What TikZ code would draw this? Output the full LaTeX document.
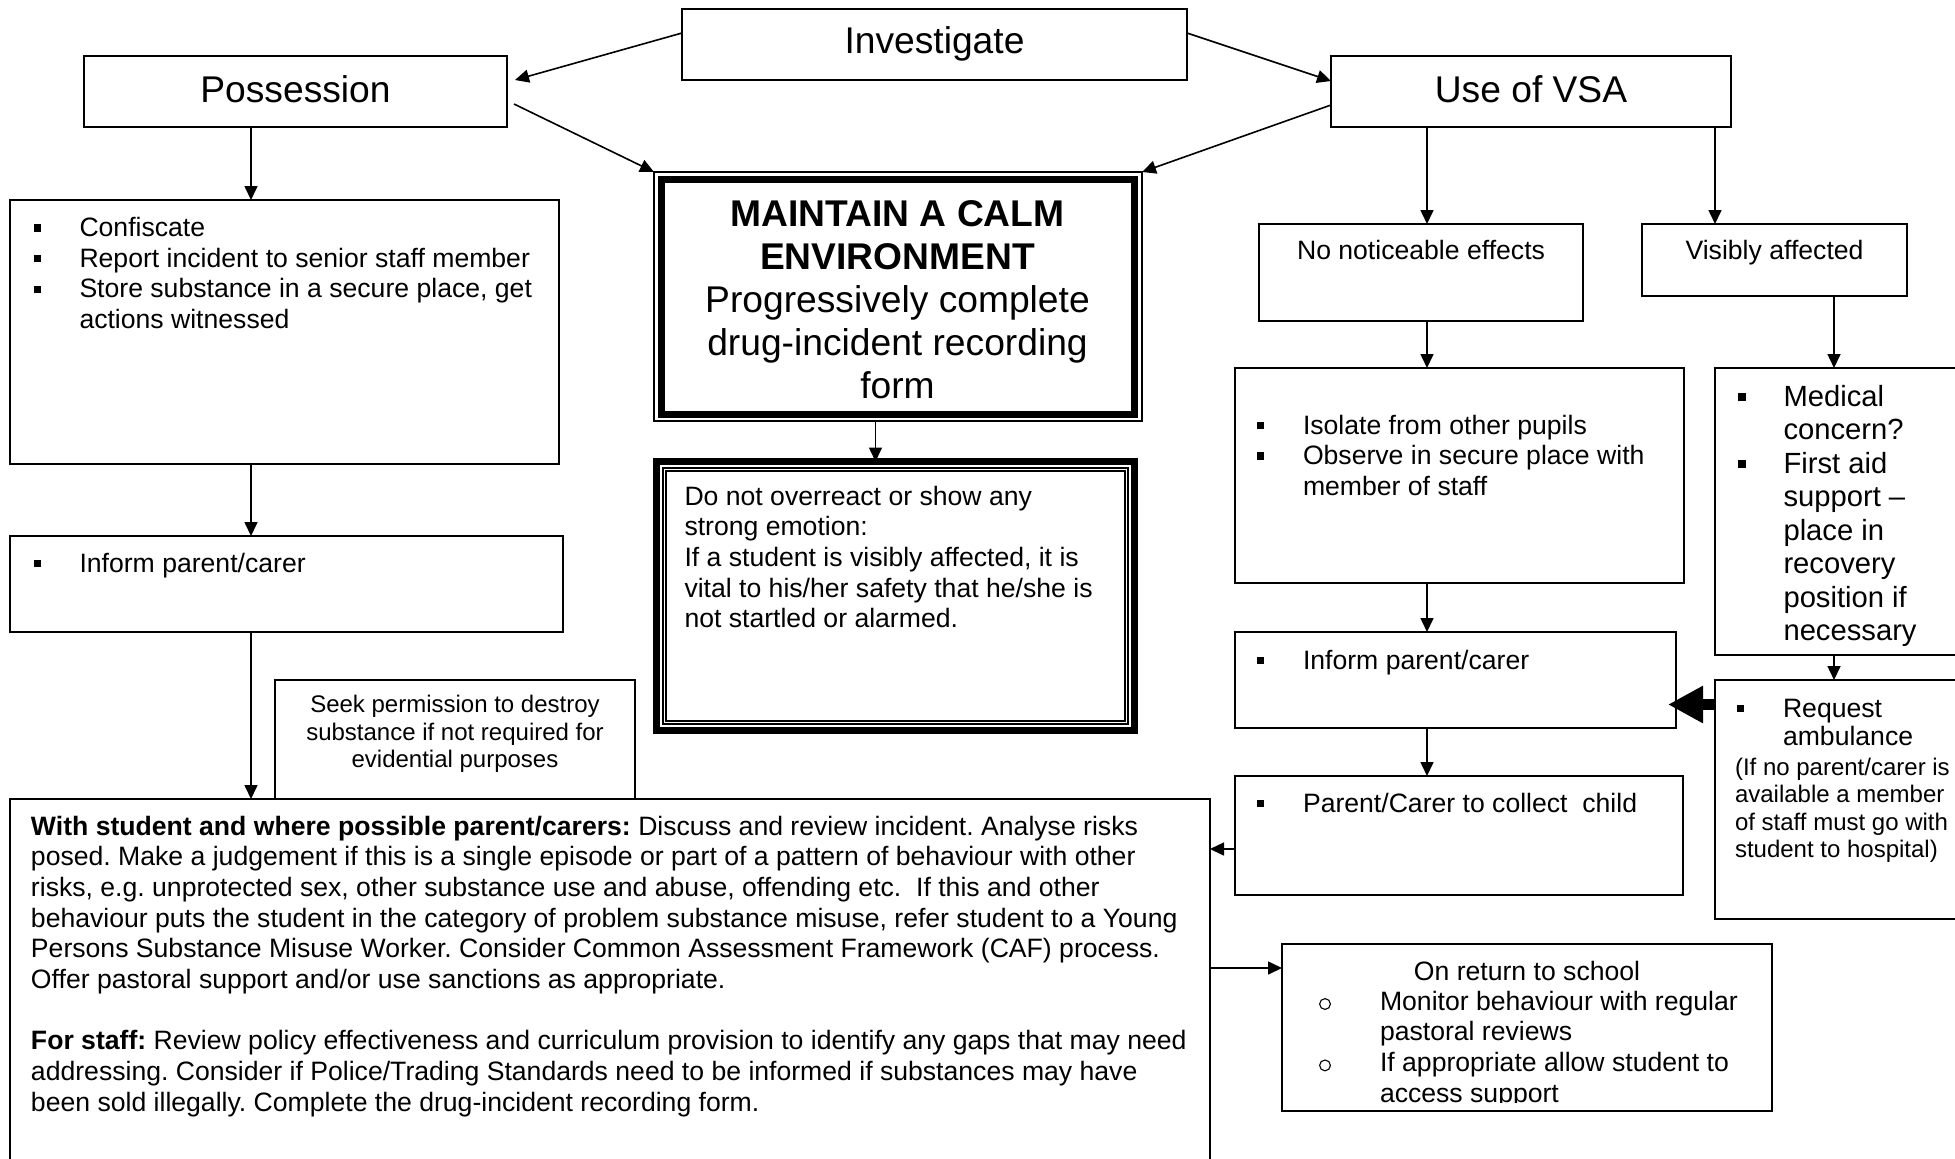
\documentclass[tikz,border=0pt]{standalone}
\usepackage{fontspec}
\setmainfont{Liberation Sans}
\usetikzlibrary{arrows.meta,fit}
\newcommand\fA{\fontsize{13.3}{15.35}\selectfont}
\newcommand\fB{\fontsize{18.6}{21.4}\selectfont}
\newcommand\fC{\fontsize{12}{13.7}\selectfont}
\newcommand\fD{\fontsize{14.6}{16.75}\selectfont}
\newcommand\fR{\fontsize{13.3}{14}\selectfont}
\newcommand\sqb{\rule[0.18em]{0.28em}{0.28em}}
\newcommand\bi[1]{\makebox[#1][l]{\sqb}}
\frenchspacing
\begin{document}
\frenchspacing
\begin{tikzpicture}[x=0.5pt,y=-0.5pt,
  box/.style={draw, line width=0.9pt, inner sep=0pt, outer sep=0pt},
  arr/.style={line width=0.8pt, -{Triangle[length=7pt,width=6.5pt]}},
  tx/.style={inner sep=0pt, outer sep=0pt, align=left, anchor=north west, font=\fA},
  tc/.style={inner sep=0pt, outer sep=0pt, align=center, anchor=north, font=\fA},
  big/.style={inner sep=0pt, outer sep=0pt, anchor=base, font=\fB}]
\fill[white] (0,0) rectangle (1955,1158);
\useasboundingbox (0,0) rectangle (1955,1158);

% top boxes
\node[box, fit={(682,9) (1187,80)}] (inv) {};
\node[box, fit={(84,56) (507,127)}] (pos) {};
\node[box, fit={(1331,56) (1731,127)}] (vsa) {};
\node[big] (inv-t) at (934.5,53.5) {Investigate};
\node[big] (pos-t) at (295.5,102) {Possession};
\node[big] (vsa-t) at (1531,102) {Use of VSA};

% central framed boxes
\node[draw, line width=0.7pt, inner sep=0pt, outer sep=0pt, fit={(654,172) (1142,421)}] (maint) {};
\draw[line width=3.5pt] ([shift={(7.5,7)}]maint.north west) rectangle ([shift={(-7.5,-7)}]maint.south east);
\node[draw, line width=3.5pt, inner sep=0pt, outer sep=0pt, fit={(656.5,461.5) (1134.5,730.5)}] (donot) {};
\draw[line width=0.6pt] ([shift={(6.5,6.5)}]donot.north west) rectangle ([shift={(-6.5,-6.5)}]donot.south east);
\draw[line width=0.6pt] ([shift={(9.5,9.5)}]donot.north west) rectangle ([shift={(-9.5,-9.5)}]donot.south east);

% left column
\node[box, fit={(10,200) (559,464)}] (conf) {};
\node[box, fit={(10,536) (563,632)}] (infL) {};
\node[box, fit={(10,799) (1210,1175)}] (big) {};
\node[box, fill=white, fit={(275,680) (635,799)}] (seek) {};

% right column
\node[box, fit={(1259,224) (1583,321)}] (nonot) {};
\node[box, fit={(1642,224) (1907,296)}] (visib) {};
\node[box, fit={(1235,368) (1684,583)}] (isol) {};
\node[box, fit={(1715,368) (1975,655)}] (med) {};
\node[box, fit={(1235,632) (1676,728)}] (infR) {};
\node[box, fit={(1715,680) (1975,919)}] (req) {};
\node[box, fit={(1235,776) (1683,895)}] (coll) {};
\node[box, fit={(1282,944) (1772,1111)}] (ret) {};

% texts
\node[tc, font=\fB] (maint-t) at (897.5,197) {\strut\textbf{MAINTAIN A CALM}\\ \textbf{ENVIRONMENT}\\ Progressively complete\\ drug-incident recording\\ form};
\node[tx] (donot-t) at (684.5,483.5) {\strut Do not overreact or show any\\ strong emotion:\\ If a student is visibly affected, it is\\ vital to his/her safety that he/she is\\ not startled or alarmed.};
\node[tx] (conf-t) at (33.5,215) {\strut\bi{23pt}Confiscate\\ \bi{23pt}Report incident to senior staff member\\ \bi{23pt}Store substance in a secure place, get\\ \hspace*{23pt}actions witnessed};
\node[tx] (infL-t) at (33.5,550.5) {\strut\bi{23pt}Inform parent/carer};
\node[tc, font=\fC] (seek-t) at (455,693.5) {\strut Seek permission to destroy\\ substance if not required for\\ evidential purposes};
\node[tx] (big-t) at (31,813.5) {\strut\textbf{With student and where possible parent/carers:} Discuss and review incident. Analyse risks\\
posed. Make a judgement if this is a single episode or part of a pattern of behaviour with other\\
risks, e.g. unprotected sex, other substance use and abuse, offending etc.\ \ If this and other\\
behaviour puts the student in the category of problem substance misuse, refer student to a Young\\
Persons Substance Misuse Worker. Consider Common Assessment Framework (CAF) process.\\
Offer pastoral support and/or use sanctions as appropriate.\\
\mbox{}\\
\textbf{For staff:} Review policy effectiveness and curriculum provision to identify any gaps that may need\\
addressing. Consider if Police/Trading Standards need to be informed if substances may have\\
been sold illegally. Complete the drug-incident recording form.};
\node[tc] (nonot-t) at (1421,238.5) {\strut No noticeable effects};
\node[tc] (visib-t) at (1774.5,238.5) {\strut Visibly affected};
\node[tx] (isol-t) at (1257,412.5) {\strut\bi{23pt}Isolate from other pupils\\ \bi{23pt}Observe in secure place with\\ \hspace*{23pt}member of staff};
\node[tx] (infR-t) at (1257,647.5) {\strut\bi{23pt}Inform parent/carer};
\node[tx] (coll-t) at (1257,790.5) {\strut\bi{23pt}Parent/Carer to collect\ \ child};
\node[tx, font=\fD] (med-t) at (1738,383) {\strut\bi{22.75pt}Medical\\ \hspace*{22.75pt}concern?\\ \bi{22.75pt}First aid\\ \hspace*{22.75pt}support –\\ \hspace*{22.75pt}place in\\ \hspace*{22.75pt}recovery\\ \hspace*{22.75pt}position if\\ \hspace*{22.75pt}necessary};
\node[tx, font=\fR] (req-t) at (1737,697.4) {\strut\bi{23pt}Request\\ \hspace*{23pt}ambulance};
\node[tx, font=\fC] (reqp-t) at (1735,756.3) {\strut(If no parent/carer is\\ available a member\\ of staff must go with\\ student to hospital)};
\node[tc] (ret-t) at (1527,958.5) {\strut On return to school};
\begin{scope}
\clip (1282,944) rectangle (1772,1102);
\node[tx] (ret-l) at (1380,988.5) {\strut Monitor behaviour with regular\\ pastoral reviews\\ If appropriate allow student to\\ access support};
\end{scope}
\draw[line width=0.55pt] (1325,1004) circle[radius=2.7pt];
\draw[line width=0.55pt] (1325,1065.4) circle[radius=2.7pt];

% diagonal connectors
\draw[arr] ([yshift=5.75pt]inv.west) -- ([xshift=4pt,yshift=5.75pt]pos.east);
\draw[arr] ([yshift=5.75pt]inv.east) -- ([yshift=5.25pt]vsa.west);
\draw[arr] ([xshift=3.5pt,yshift=-6.25pt]pos.east) -- (maint.north west);
\draw[arr] ([yshift=-6.75pt]vsa.west) -- (maint.north east);

% vertical connectors
\path ([xshift=-22.25pt]pos.south) coordinate (d1);
\draw[arr] (d1) -- (d1 |- conf.north);
\path ([xshift=-16.75pt]conf.south) coordinate (d2);
\draw[arr] (d2) -- (d2 |- infL.north);
\path ([xshift=-17.75pt]infL.south) coordinate (d3);
\draw[arr] (d3) -- (d3 |- big.north);
\path ([xshift=-11.25pt]maint.south) coordinate (d4);
\draw[arr] (d4) -- (d4 |- donot.north);
\path ([xshift=-52pt]vsa.south) coordinate (d5);
\draw[arr] (d5) -- (d5 |- nonot.north);
\path ([xshift=92pt]vsa.south) coordinate (d6);
\draw[arr] (d6) -- (d6 |- visib.north);
\path ([xshift=3pt]nonot.south) coordinate (d7);
\draw[arr] (d7) -- (d7 |- isol.north);
\path ([xshift=29.75pt]visib.south) coordinate (d8);
\draw[arr] (d8) -- (d8 |- med.north);
\path ([xshift=-16.25pt]isol.south) coordinate (d9);
\draw[arr] (d9) -- (d9 |- infR.north);
\path ([xshift=-14.25pt]infR.south) coordinate (d10);
\draw[arr] (d10) -- (d10 |- coll.north);
\path ([xshift=-5.5pt]med.south) coordinate (d11);
\draw[arr] (d11) -- (d11 |- req.north);

% horizontal connectors
\path ([yshift=47.5pt]req.west) coordinate (ta);
\path (infR.east |- ta) ++(-8,0) coordinate (tb);
\draw[line width=5.5pt, -{Triangle[length=17.5pt,width=17.5pt]}] (ta) -- (tb);
\path ([yshift=-6.75pt]coll.west) coordinate (h1);
\draw[arr] (h1) -- (big.east |- h1);
\path ([yshift=9.5pt]big.east) coordinate (h2);
\draw[arr] (h2) -- (ret.west |- h2);
\end{tikzpicture}
\end{document}
